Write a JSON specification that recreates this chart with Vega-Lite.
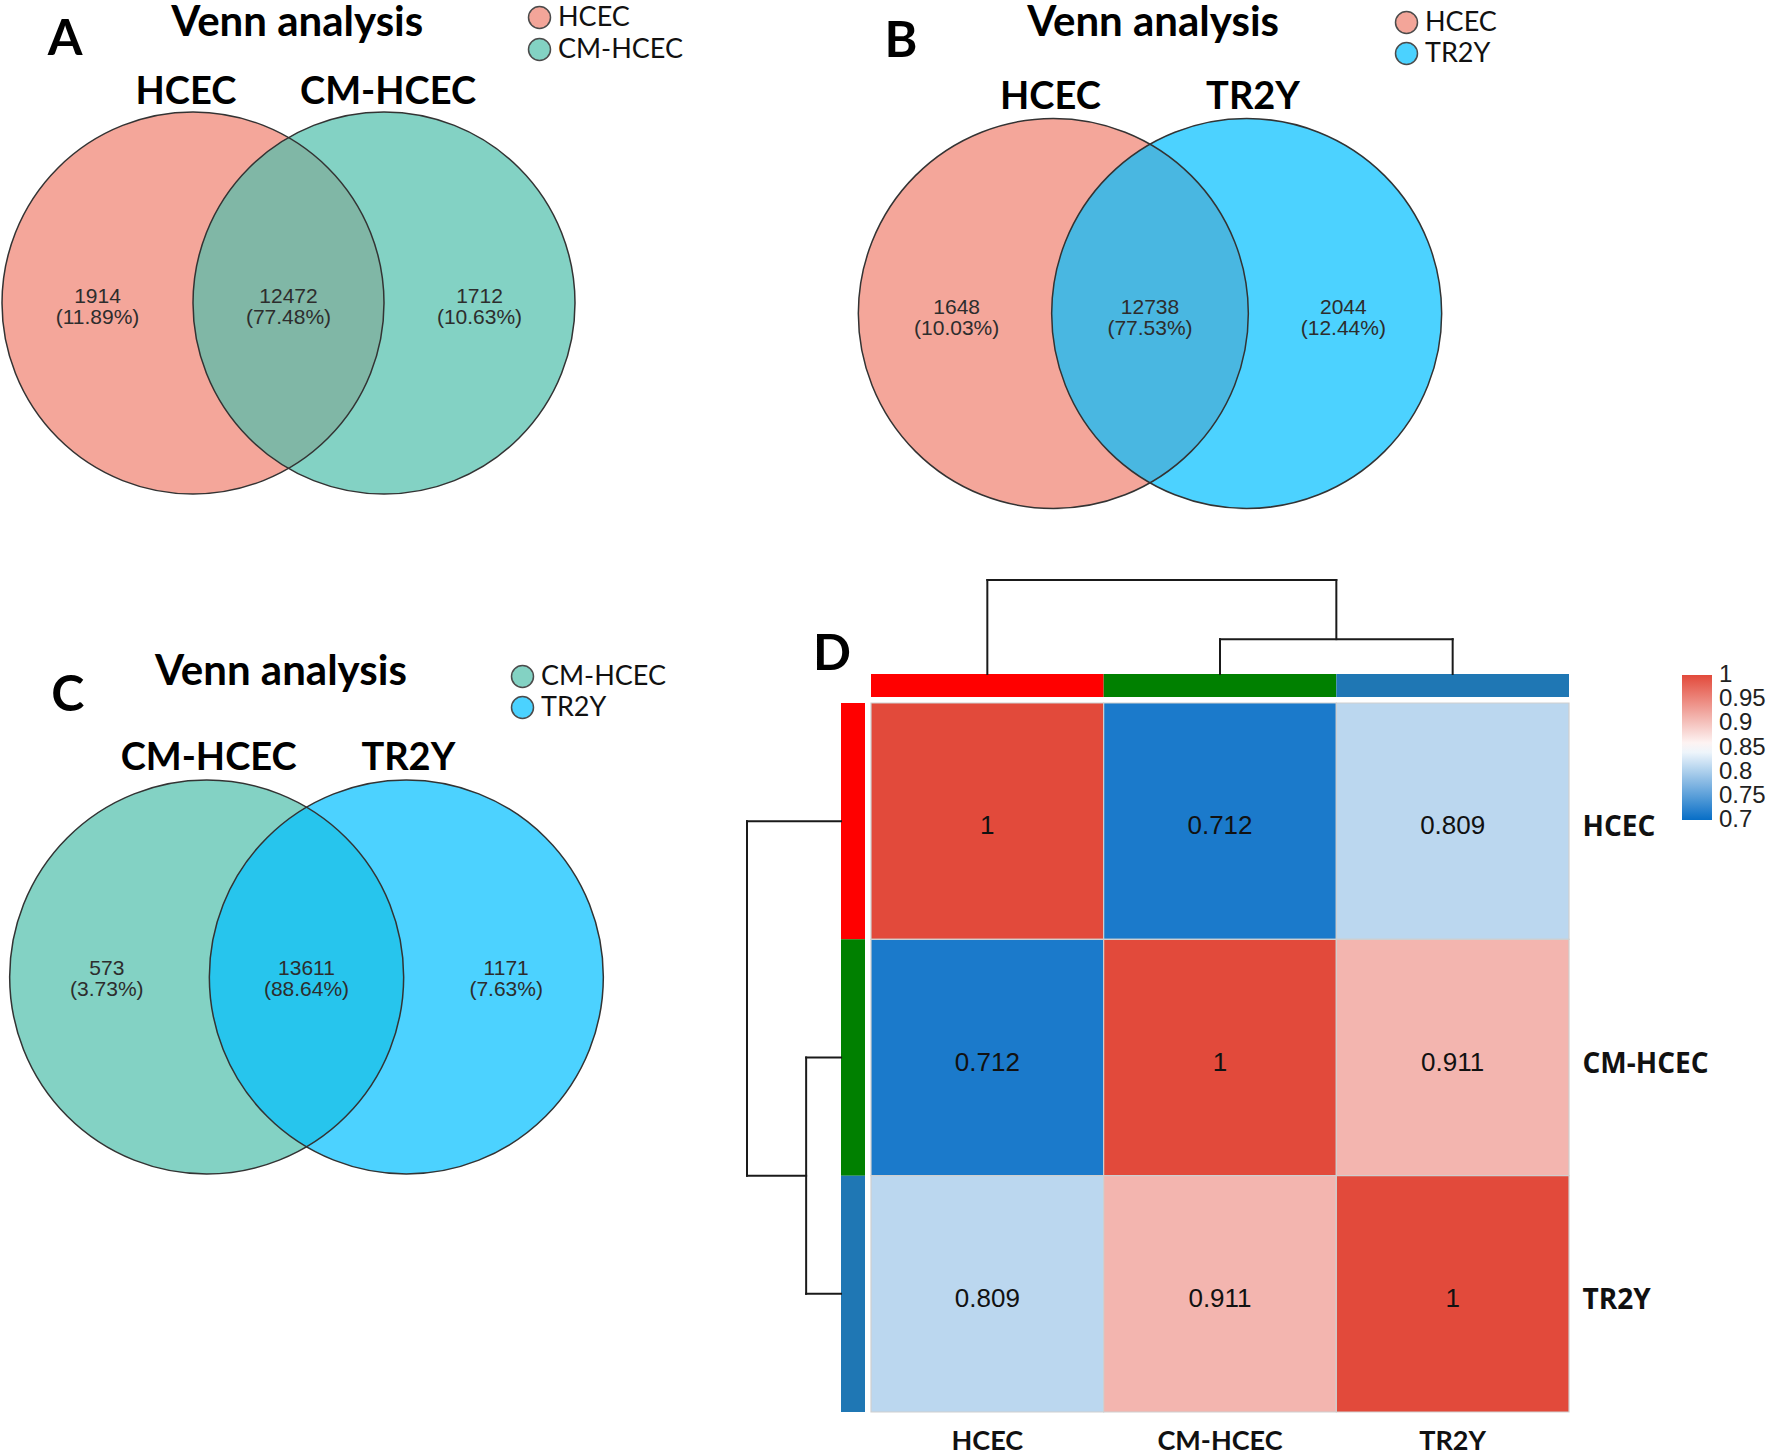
{
  "$schema": "https://vega.github.io/schema/vega-lite/v6.json",
  "width": 1770,
  "height": 1454,
  "autosize": "none",
  "padding": 0,
  "background": "white",
  "config": {"view": {"stroke": null}},
  "datasets": {
    "setsA": [{"set": "HCEC", "px": 0, "py": 0}, {"set": "CM-HCEC", "px": 1, "py": 0}],
    "regionsA": [
      {"count": 1914, "pct": "(11.89%)", "px": -0.5, "py": -0.024},
      {"count": 12472, "pct": "(77.48%)", "px": 0.5, "py": -0.024},
      {"count": 1712, "pct": "(10.63%)", "px": 1.5, "py": -0.024}
    ],
    "setsB": [{"set": "HCEC", "px": 0, "py": 0}, {"set": "TR2Y", "px": 1, "py": 0}],
    "regionsB": [
      {"count": 1648, "pct": "(10.03%)", "px": -0.5, "py": -0.023},
      {"count": 12738, "pct": "(77.53%)", "px": 0.5, "py": -0.023},
      {"count": 2044, "pct": "(12.44%)", "px": 1.5, "py": -0.023}
    ],
    "setsC": [{"set": "CM-HCEC", "px": 0, "py": 0}, {"set": "TR2Y", "px": 1, "py": 0}],
    "regionsC": [
      {"count": 573, "pct": "(3.73%)", "px": -0.5, "py": -0.015},
      {"count": 13611, "pct": "(88.64%)", "px": 0.5, "py": -0.015},
      {"count": 1171, "pct": "(7.63%)", "px": 1.5, "py": -0.015}
    ],
    "correlation": [
      {"row": "HCEC", "col": "HCEC", "r": 1},
      {"row": "HCEC", "col": "CM-HCEC", "r": 0.712},
      {"row": "HCEC", "col": "TR2Y", "r": 0.809},
      {"row": "CM-HCEC", "col": "HCEC", "r": 0.712},
      {"row": "CM-HCEC", "col": "CM-HCEC", "r": 1},
      {"row": "CM-HCEC", "col": "TR2Y", "r": 0.911},
      {"row": "TR2Y", "col": "HCEC", "r": 0.809},
      {"row": "TR2Y", "col": "CM-HCEC", "r": 0.911},
      {"row": "TR2Y", "col": "TR2Y", "r": 1}
    ],
    "samples": [
      {"sample": "HCEC", "track": "Sample"},
      {"sample": "CM-HCEC", "track": "Sample"},
      {"sample": "TR2Y", "track": "Sample"}
    ],
    "dendrogram": [
      {"pos": 0.5, "pos2": 0.5, "height": 0, "height2": 0.24},
      {"pos": 0.5, "pos2": 2.0, "height": 0.24, "height2": 0.24},
      {"pos": 2.0, "pos2": 2.0, "height": 0.089, "height2": 0.24},
      {"pos": 1.5, "pos2": 2.5, "height": 0.089, "height2": 0.089},
      {"pos": 1.5, "pos2": 1.5, "height": 0, "height2": 0.089},
      {"pos": 2.5, "pos2": 2.5, "height": 0, "height2": 0.089}
    ]
  },
  "layer": [
    {
      "encoding": {
        "x": {"field": "px", "type": "quantitative", "axis": null, "scale": {"domain": [-1, 2], "range": [2, 575], "nice": false, "zero": false}},
        "y": {"field": "py", "type": "quantitative", "axis": null, "scale": {"domain": [-1, 1], "range": [494, 112], "nice": false, "zero": false}}
      },
      "layer": [
        {
          "data": {"name": "setsA"},
          "mark": {"type": "point", "shape": "circle", "filled": true, "size": 145924, "opacity": 0.7, "strokeWidth": 0},
          "encoding": {
            "color": {"field": "set", "type": "nominal", "scale": {"domain": ["HCEC", "CM-HCEC"], "range": ["#ef806f", "#4fbfab"]},
              "legend": {"orient": "none", "legendX": 526, "legendY": 4, "title": null, "symbolType": "circle", "symbolSize": 484, "symbolStrokeColor": "#000000", "symbolStrokeWidth": 1.5, "labelFont": "Lato", "labelFontSize": 27, "labelColor": "#111111", "labelOffset": 5, "rowPadding": 3, "padding": 0}}
          }
        },
        {
          "data": {"name": "setsA"},
          "mark": {"type": "point", "shape": "circle", "filled": false, "size": 145924, "stroke": "#333333", "strokeWidth": 1.5, "opacity": 1}
        },
        {
          "data": {"values": [{"label": "HCEC", "px": -0.037, "py": 1.042}, {"label": "CM-HCEC", "px": 1.021, "py": 1.042}]},
          "mark": {"type": "text", "font": "Lato", "fontWeight": "bold", "fontSize": 38, "align": "center", "baseline": "alphabetic", "fill": "#000000"},
          "encoding": {"text": {"field": "label", "type": "nominal"}}
        },
        {
          "data": {"name": "regionsA"},
          "mark": {"type": "text", "font": "Liberation Sans", "fontSize": 21, "align": "center", "baseline": "middle", "dy": -10.5, "fill": "#2d2d2d"},
          "encoding": {"text": {"field": "count", "type": "nominal"}}
        },
        {
          "data": {"name": "regionsA"},
          "mark": {"type": "text", "font": "Liberation Sans", "fontSize": 21, "align": "center", "baseline": "middle", "dy": 10.5, "fill": "#2d2d2d"},
          "encoding": {"text": {"field": "pct", "type": "nominal"}}
        },
        {
          "data": {"values": [{"label": "Venn analysis", "px": 0.546, "py": 1.398}]},
          "mark": {"type": "text", "font": "Lato", "fontWeight": "bold", "fontSize": 42, "align": "center", "baseline": "alphabetic", "fill": "#000000"},
          "encoding": {"text": {"field": "label", "type": "nominal"}}
        },
        {
          "data": {"values": [{"label": "A", "px": -0.67, "py": 1.298}]},
          "mark": {"type": "text", "font": "Lato", "fontWeight": "bold", "fontSize": 50, "align": "center", "baseline": "alphabetic", "fill": "#000000"},
          "encoding": {"text": {"field": "label", "type": "nominal"}}
        }
      ]
    },
    {
      "encoding": {
        "x": {"field": "px", "type": "quantitative", "axis": null, "scale": {"domain": [-1, 2], "range": [860, 1440], "nice": false, "zero": false}},
        "y": {"field": "py", "type": "quantitative", "axis": null, "scale": {"domain": [-1, 1], "range": [510, 117], "nice": false, "zero": false}}
      },
      "layer": [
        {
          "data": {"name": "setsB"},
          "mark": {"type": "point", "shape": "circle", "filled": true, "size": 152100, "opacity": 0.7, "strokeWidth": 0},
          "encoding": {
            "color": {"field": "set", "type": "nominal", "scale": {"domain": ["HCEC", "TR2Y"], "range": ["#ef806f", "#00bfff"]},
              "legend": {"orient": "none", "legendX": 1393, "legendY": 9, "title": null, "symbolType": "circle", "symbolSize": 484, "symbolStrokeColor": "#000000", "symbolStrokeWidth": 1.5, "labelFont": "Lato", "labelFontSize": 27, "labelColor": "#111111", "labelOffset": 5, "rowPadding": 2, "padding": 0}}
          }
        },
        {
          "data": {"name": "setsB"},
          "mark": {"type": "point", "shape": "circle", "filled": false, "size": 152100, "stroke": "#333333", "strokeWidth": 1.5, "opacity": 1}
        },
        {
          "data": {"values": [{"label": "HCEC", "px": -0.015, "py": 1.041}, {"label": "TR2Y", "px": 1.033, "py": 1.041}]},
          "mark": {"type": "text", "font": "Lato", "fontWeight": "bold", "fontSize": 38, "align": "center", "baseline": "alphabetic", "fill": "#000000"},
          "encoding": {"text": {"field": "label", "type": "nominal"}}
        },
        {
          "data": {"name": "regionsB"},
          "mark": {"type": "text", "font": "Liberation Sans", "fontSize": 21, "align": "center", "baseline": "middle", "dy": -10.5, "fill": "#2d2d2d"},
          "encoding": {"text": {"field": "count", "type": "nominal"}}
        },
        {
          "data": {"name": "regionsB"},
          "mark": {"type": "text", "font": "Liberation Sans", "fontSize": 21, "align": "center", "baseline": "middle", "dy": 10.5, "fill": "#2d2d2d"},
          "encoding": {"text": {"field": "pct", "type": "nominal"}}
        },
        {
          "data": {"values": [{"label": "Venn analysis", "px": 0.516, "py": 1.412}]},
          "mark": {"type": "text", "font": "Lato", "fontWeight": "bold", "fontSize": 42, "align": "center", "baseline": "alphabetic", "fill": "#000000"},
          "encoding": {"text": {"field": "label", "type": "nominal"}}
        },
        {
          "data": {"values": [{"label": "B", "px": -0.788, "py": 1.305}]},
          "mark": {"type": "text", "font": "Lato", "fontWeight": "bold", "fontSize": 50, "align": "center", "baseline": "alphabetic", "fill": "#000000"},
          "encoding": {"text": {"field": "label", "type": "nominal"}}
        }
      ]
    },
    {
      "encoding": {
        "x": {"field": "px", "type": "quantitative", "axis": null, "scale": {"domain": [-1, 2], "range": [7, 606], "nice": false, "zero": false}},
        "y": {"field": "py", "type": "quantitative", "axis": null, "scale": {"domain": [-1, 1], "range": [1172, 782], "nice": false, "zero": false}}
      },
      "layer": [
        {
          "data": {"name": "setsC"},
          "mark": {"type": "point", "shape": "circle", "filled": true, "size": 155236, "opacity": 0.7, "strokeWidth": 0},
          "encoding": {
            "color": {"field": "set", "type": "nominal", "scale": {"domain": ["CM-HCEC", "TR2Y"], "range": ["#4fbfab", "#00bfff"]},
              "legend": {"orient": "none", "legendX": 509, "legendY": 663, "title": null, "symbolType": "circle", "symbolSize": 484, "symbolStrokeColor": "#000000", "symbolStrokeWidth": 1.5, "labelFont": "Lato", "labelFontSize": 27, "labelColor": "#111111", "labelOffset": 5, "rowPadding": 2, "padding": 0}}
          }
        },
        {
          "data": {"name": "setsC"},
          "mark": {"type": "point", "shape": "circle", "filled": false, "size": 155236, "stroke": "#333333", "strokeWidth": 1.5, "opacity": 1}
        },
        {
          "data": {"values": [{"label": "CM-HCEC", "px": 0.01, "py": 1.062}, {"label": "TR2Y", "px": 1.01, "py": 1.062}]},
          "mark": {"type": "text", "font": "Lato", "fontWeight": "bold", "fontSize": 38, "align": "center", "baseline": "alphabetic", "fill": "#000000"},
          "encoding": {"text": {"field": "label", "type": "nominal"}}
        },
        {
          "data": {"name": "regionsC"},
          "mark": {"type": "text", "font": "Liberation Sans", "fontSize": 21, "align": "center", "baseline": "middle", "dy": -10.5, "fill": "#2d2d2d"},
          "encoding": {"text": {"field": "count", "type": "nominal"}}
        },
        {
          "data": {"name": "regionsC"},
          "mark": {"type": "text", "font": "Liberation Sans", "fontSize": 21, "align": "center", "baseline": "middle", "dy": 10.5, "fill": "#2d2d2d"},
          "encoding": {"text": {"field": "pct", "type": "nominal"}}
        },
        {
          "data": {"values": [{"label": "Venn analysis", "px": 0.372, "py": 1.497}]},
          "mark": {"type": "text", "font": "Lato", "fontWeight": "bold", "fontSize": 42, "align": "center", "baseline": "alphabetic", "fill": "#000000"},
          "encoding": {"text": {"field": "label", "type": "nominal"}}
        },
        {
          "data": {"values": [{"label": "C", "px": -0.695, "py": 1.364}]},
          "mark": {"type": "text", "font": "Lato", "fontWeight": "bold", "fontSize": 50, "align": "center", "baseline": "alphabetic", "fill": "#000000"},
          "encoding": {"text": {"field": "label", "type": "nominal"}}
        }
      ]
    },
    {
      "data": {"name": "correlation"},
      "encoding": {
        "x": {"field": "col", "type": "nominal", "sort": ["HCEC", "CM-HCEC", "TR2Y"],
          "scale": {"domain": ["HCEC", "CM-HCEC", "TR2Y"], "range": [871, 1569], "paddingInner": 0, "paddingOuter": 0},
          "axis": {"orient": "bottom", "offset": -42, "title": null, "domain": false, "ticks": false, "labelAngle": 0, "labelFont": "Lato", "labelFontWeight": "bold", "labelFontSize": 27, "labelColor": "#111111", "labelPadding": 16}},
        "y": {"field": "row", "type": "nominal", "sort": ["HCEC", "CM-HCEC", "TR2Y"],
          "scale": {"domain": ["HCEC", "CM-HCEC", "TR2Y"], "range": [703, 1412], "paddingInner": 0, "paddingOuter": 0},
          "axis": {"orient": "right", "offset": -201, "title": null, "domain": false, "ticks": false, "labelAlign": "left", "labelFont": "Open Sans", "labelFontWeight": "bold", "labelFontSize": 28, "labelColor": "#111111", "labelPadding": 13, "labelOffset": 7}}
      },
      "layer": [
        {
          "mark": {"type": "rect", "stroke": "#cfcfcf", "strokeWidth": 1.2},
          "encoding": {
            "color": {"field": "r", "type": "quantitative",
              "scale": {"type": "linear", "domain": [0.7, 0.85, 1], "range": ["#076ec6", "#ffffff", "#e24a3b"], "interpolate": "rgb"},
              "legend": {"orient": "none", "legendX": 1682, "legendY": 675, "direction": "vertical", "title": null, "gradientLength": 145, "gradientThickness": 30, "gradientStrokeWidth": 0, "values": [0.7, 0.75, 0.8, 0.85, 0.9, 0.95, 1], "format": ".2~f", "labelFont": "Liberation Sans", "labelFontSize": 24, "labelColor": "#222222", "labelOffset": 7, "labelOverlap": false, "padding": 0,
                "encode": {"labels": {"update": {"baseline": {"value": "middle"}}}}}}
          }
        },
        {
          "mark": {"type": "text", "font": "Liberation Sans", "fontSize": 26, "fill": "#111111", "align": "center", "baseline": "middle", "dy": 5},
          "encoding": {"text": {"field": "r", "type": "quantitative", "format": "~g"}}
        }
      ]
    },
    {
      "data": {"name": "samples"},
      "mark": {"type": "rect"},
      "encoding": {
        "x": {"field": "sample", "type": "nominal", "axis": null, "scale": {"domain": ["HCEC", "CM-HCEC", "TR2Y"], "range": [871, 1569], "paddingInner": 0, "paddingOuter": 0}},
        "y": {"field": "track", "type": "nominal", "axis": null, "scale": {"range": [674, 697], "paddingInner": 0, "paddingOuter": 0}},
        "color": {"field": "sample", "type": "nominal", "scale": {"domain": ["HCEC", "CM-HCEC", "TR2Y"], "range": ["#ff0000", "#008000", "#1f77b4"]}, "legend": null}
      }
    },
    {
      "data": {"name": "samples"},
      "mark": {"type": "rect"},
      "encoding": {
        "y": {"field": "sample", "type": "nominal", "axis": null, "scale": {"domain": ["HCEC", "CM-HCEC", "TR2Y"], "range": [703, 1412], "paddingInner": 0, "paddingOuter": 0}},
        "x": {"field": "track", "type": "nominal", "axis": null, "scale": {"range": [841, 865], "paddingInner": 0, "paddingOuter": 0}},
        "color": {"field": "sample", "type": "nominal", "scale": {"domain": ["HCEC", "CM-HCEC", "TR2Y"], "range": ["#ff0000", "#008000", "#1f77b4"]}, "legend": null}
      }
    },
    {
      "encoding": {
        "x": {"field": "pos", "type": "quantitative", "axis": null, "scale": {"domain": [0, 3], "range": [871, 1569], "nice": false, "zero": false}},
        "y": {"field": "height", "type": "quantitative", "axis": null, "scale": {"domain": [0, 0.24], "range": [674, 580], "nice": false, "zero": false}}
      },
      "layer": [
        {
          "data": {"name": "dendrogram"},
          "mark": {"type": "rule", "stroke": "#1a1a1a", "strokeWidth": 2, "strokeCap": "square"},
          "encoding": {"x2": {"field": "pos2"}, "y2": {"field": "height2"}}
        },
        {
          "data": {"values": [{"label": "D", "pos": -0.168, "height": 0.0102}]},
          "mark": {"type": "text", "font": "Lato", "fontWeight": "bold", "fontSize": 50, "align": "center", "baseline": "alphabetic", "fill": "#000000"},
          "encoding": {"text": {"field": "label", "type": "nominal"}}
        }
      ]
    },
    {
      "data": {"name": "dendrogram"},
      "mark": {"type": "rule", "stroke": "#1a1a1a", "strokeWidth": 2, "strokeCap": "square"},
      "encoding": {
        "y": {"field": "pos", "type": "quantitative", "axis": null, "scale": {"domain": [0, 3], "range": [703, 1412], "nice": false, "zero": false}},
        "y2": {"field": "pos2"},
        "x": {"field": "height", "type": "quantitative", "axis": null, "scale": {"domain": [0, 0.24], "range": [841, 747], "nice": false, "zero": false}},
        "x2": {"field": "height2"}
      }
    }
  ],
  "resolve": {
    "scale": {"x": "independent", "y": "independent", "color": "independent"},
    "axis": {"x": "independent", "y": "independent"},
    "legend": {"color": "independent"}
  }
}
